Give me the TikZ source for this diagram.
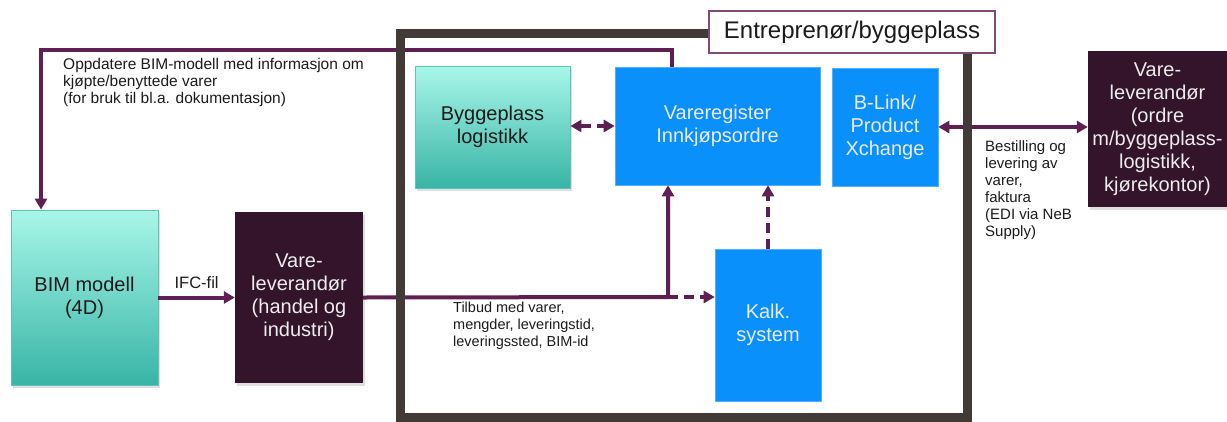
\documentclass[tikz,border=0pt]{standalone}
\usepackage{fontspec}
\setmainfont{Liberation Sans}
\usetikzlibrary{arrows.meta,shadows}
\definecolor{bluebox}{HTML}{0A90FA}
\definecolor{darkbox}{HTML}{33142A}
\definecolor{tealtop}{HTML}{A8F7E9}
\definecolor{tealbot}{HTML}{38B4A6}
\definecolor{tealedge}{HTML}{5CC6B5}
\definecolor{conn}{HTML}{5E1F52}
\definecolor{framec}{HTML}{423A37}
\definecolor{txt}{HTML}{1E1A1A}
\tikzset{
  base/.style={inner sep=0pt, align=center, font=\fontsize{20}{23}\selectfont},
  tealbox/.style={base, top color=tealtop, bottom color=tealbot, draw=tealedge, line width=0.8pt, text=txt,
    drop shadow={opacity=0.25, shadow xshift=2pt, shadow yshift=-3pt}},
  bluebx/.style={base, fill=bluebox, draw=bluebox!70!white, line width=0.6pt, text=white!92!blue},
  darkbx/.style={base, fill=darkbox, text=white!93!black,
    drop shadow={opacity=0.25, shadow xshift=2pt, shadow yshift=-3pt}},
  conline/.style={draw=conn, line width=4pt},
  tip/.style={-{Triangle[length=11pt,width=12pt]}},
  dtip/.style={{Triangle[length=11pt,width=12pt]}-{Triangle[length=11pt,width=12pt]}},
  dsh/.style={dash pattern=on 10pt off 6pt},
  note/.style={inner sep=0pt, align=left, text=txt, font=\fontsize{14.5}{17}\selectfont, anchor=north west},
}
\begin{document}
\begin{tikzpicture}[x=1pt,y=-1pt]
\useasboundingbox (0,0) rectangle (1227,421);
% nodes
\node[tealbox, minimum width=147, minimum height=175] (bim) at (84.5,297.5) {BIM modell\\(4D)};
\node[darkbx, minimum width=128, minimum height=171] (vl) at (299,297.5) {Vare-\\leverandør\\(handel og\\industri)};
\node[tealbox, minimum width=155, minimum height=122] (byg) at (492.5,127) {Byggeplass\\logistikk};
\node[bluebx, minimum width=205, minimum height=118] (reg) at (717.5,126) {Vareregister\\Innkjøpsordre};
\node[bluebx, minimum width=106, minimum height=118] (blink) at (885,127) {B-Link/\\Product\\Xchange};
\node[bluebx, minimum width=106, minimum height=152] (kalk) at (768,325) {Kalk.\\system};
\node[darkbx, minimum width=139, minimum height=156] (vr) at (1157.5,129) {Vare-\\leverandør\\(ordre\\m/byggeplass-\\logistikk,\\kjørekontor)};
% connectors
\coordinate (fbc) at (41,50);
\coordinate (fbs) at (672,50);
\draw[conline, tip] (fbs |- reg.north) -- (fbs) -- (fbc) -- (fbc |- bim.north);
\draw[conline, tip] (bim.east) -- node[above=7pt, text=txt, font=\fontsize{16.5}{19}\selectfont, inner sep=0pt] (ifc) {IFC-fil} (vl.west);
\coordinate (j) at (668,297);
\draw[conline, tip] (vl.east) -- (j) -- (j |- reg.south);
\draw[conline, dsh, tip] (j) -- (j -| kalk.west);
\draw[conline, dsh, tip] (kalk.north) -- (kalk.north |- reg.south);
\draw[conline, dsh, dtip] (byg.east |- reg.west) -- (reg.west);
\draw[conline, dtip] (blink.east) -- (blink.east -| vr.west);
% frame
\draw[framec, line width=9pt] (400,33) rectangle (967,417);
\node[base, font=\fontsize{24}{28}\selectfont, fill=white, draw=conn!80!white, line width=1.2pt, text=txt, minimum width=286, minimum height=42] (lab) at (852,32) {Entreprenør/byggeplass};
% notes
\node[note, font=\fontsize{15.5}{17}\selectfont] (n1) at (63,58) {Oppdatere BIM-modell med informasjon om\\kjøpte/benyttede varer\\(for bruk til bl.a. dokumentasjon)};
\node[note] (n2) at (453,302) {Tilbud med varer,\\mengder, leveringstid,\\leveringssted, BIM-id};
\node[note, font=\fontsize{15}{17}\selectfont] (n3) at (985,140) {Bestilling og\\levering av\\varer,\\faktura\\(EDI via NeB\\Supply)};
\end{tikzpicture}
\end{document}
